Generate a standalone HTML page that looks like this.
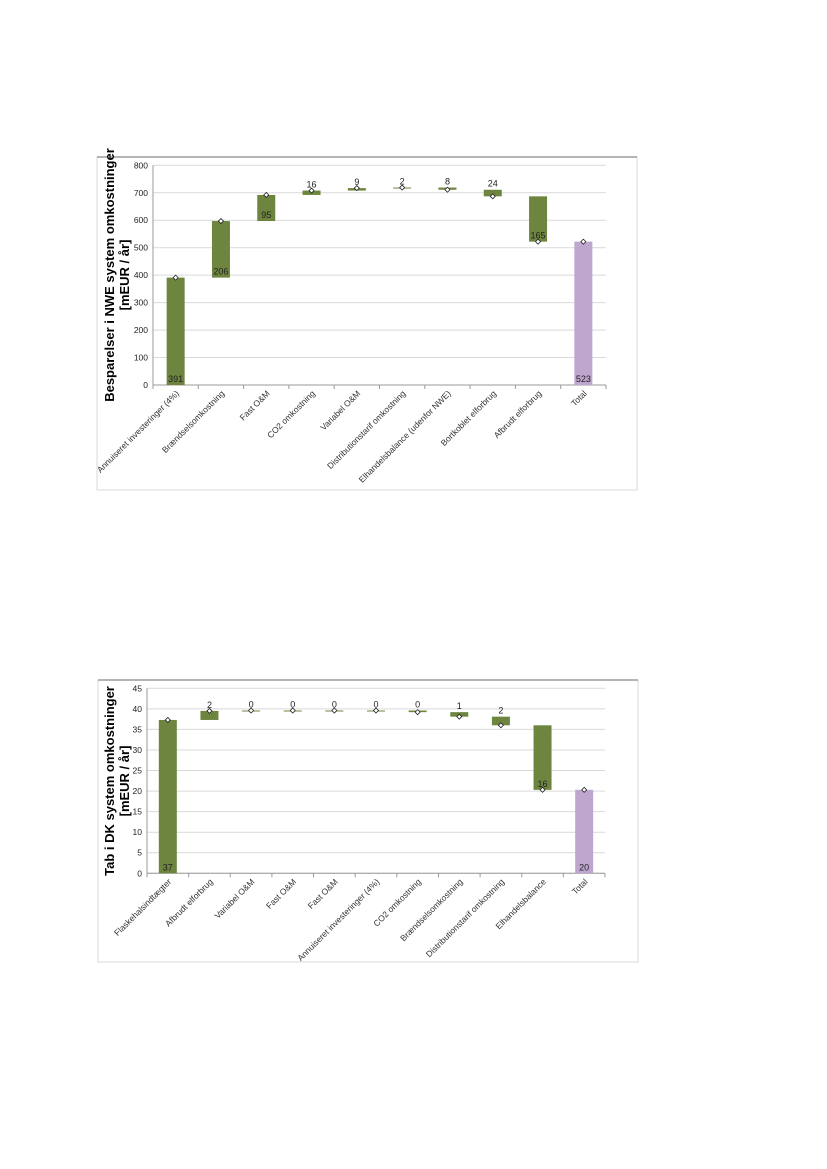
<!DOCTYPE html>
<html><head><meta charset="utf-8"><style>
body{margin:0;background:#fff;}
svg{display:block;font-family:"Liberation Sans",Arial,sans-serif;}
</style></head><body>
<svg id="s" width="827" height="1169" viewBox="0 0 827 1169" xmlns="http://www.w3.org/2000/svg">
<rect x="0" y="0" width="827" height="1169" fill="#fff"/>
<g id="c1"></g>
<g id="c2"></g>
</svg>
<script>
const nweCategories = ["Annuiseret investeringer (4%)","Brændselsomkostning","Fast O&M","CO2 omkostning","Variabel O&M","Distributionstarif omkostning","Elhandelsbalance (udenfor NWE)","Bortkoblet elforbrug","Afbrudt elforbrug","Total"];
const nweDeltas = [391,206,95,16,9,2,-8,-24,-165];
const nweLabels = ["391","206","95","16","9","2","8","24","165","523"];
const nweTicks = [0,100,200,300,400,500,600,700,800];

const dkCategories = ["Flaskehalsindtægter","Afbrudt elforbrug","Variabel O&M","Fast O&M","Fast O&M","Annuiseret investeringer (4%)","CO2 omkostning","Brændselsomkostning","Distributionstarif omkostning","Elhandelsbalance","Total"];
const dkDeltas = [37.3,2.2,0.1,0,0,0,-0.4,-1.1,-2.1,-15.7];
const dkLabels = ["37","2","0","0","0","0","0","1","2","16","20"];
const dkTicks = [0,5,10,15,20,25,30,35,40,45];

const NS="http://www.w3.org/2000/svg";
function mk(parent,tag,attrs){const e=document.createElementNS(NS,tag);for(const k in attrs)e.setAttribute(k,attrs[k]);parent.appendChild(e);return e;}

function draw(g,cfg,cats,deltas,labels,ticks){
  const box=mk(g,'rect',{x:cfg.bx,y:cfg.by,width:cfg.bw,height:cfg.bh,fill:'none',stroke:'#d9d9d9','stroke-width':1});
  
  
  mk(g,'line',{x1:cfg.bx,y1:cfg.by,x2:cfg.bx+cfg.bw,y2:cfg.by,stroke:'#888','stroke-width':1.2});
  const ymax=ticks[ticks.length-1];
  const Y=v=>cfg.y0-(v/ymax)*(cfg.y0-cfg.ytop);
  const n=cats.length, step=(cfg.x1-cfg.x0)/n;
  const X=i=>cfg.x0+step*(i+0.5);
  ticks.forEach(t=>{
    const gl=mk(g,'line',{x1:cfg.x0,x2:cfg.x1,y1:Y(t),y2:Y(t),stroke:'#d9d9d9','stroke-width':1});
    
    
    const tl=mk(g,'text',{x:cfg.x0-5,y:Y(t)+3,'text-anchor':'end','font-size':8.5,fill:'#222'});
    tl.textContent=t;
    
    
  });
  mk(g,'line',{x1:cfg.x0,x2:cfg.x0,y1:cfg.ytop,y2:cfg.y0,stroke:'#999'});
  mk(g,'line',{x1:cfg.x0,x2:cfg.x1,y1:cfg.y0,y2:cfg.y0,stroke:'#999'});
  for(let i=0;i<=n;i++)mk(g,'line',{x1:cfg.x0+step*i,x2:cfg.x0+step*i,y1:cfg.y0,y2:cfg.y0+4,stroke:'#999'});
  let cum=0;
  const bw=18;
  for(let i=0;i<n;i++){
    let a,b,fill;
    if(i<deltas.length){a=cum;b=cum+deltas[i];cum=b;fill='#6e8540';}
    else{a=0;b=cum;fill='#bfa6cf';}
    const top=Y(Math.max(a,b)),bot=Y(Math.min(a,b));
    const h=Math.max(bot-top,1);
    const r=mk(g,'rect',{x:X(i)-bw/2,y:top,width:bw,height:h,fill:fill});
    
    
    const d=mk(g,'path',{d:`M${X(i)} ${Y(b)-2.5} L${X(i)+2.5} ${Y(b)} L${X(i)} ${Y(b)+2.5} L${X(i)-2.5} ${Y(b)} Z`,fill:'#fff',stroke:'#222','stroke-width':0.8});
    
    
    const lt=mk(g,'text',{x:X(i),'text-anchor':'middle','font-size':9,fill:'#222'});
    lt.setAttribute('y',h<12?top-3:bot-3);
    lt.textContent=labels[i];
    
    
    const cx=X(i)+4, cy=cfg.y0+9;
    const cl=mk(g,'text',{x:cx,y:cy,'text-anchor':'end','font-size':8.5,fill:'#333',transform:`rotate(-45 ${cx} ${cy})`});
    cl.textContent=cats[i];
    
    
  }
  const tg=mk(g,'text',{'text-anchor':'middle','font-size':13,'font-weight':'bold',fill:'#000',transform:`translate(${cfg.tx} ${cfg.ty}) rotate(-90)`});
  
  
  cfg.title.forEach((t,k)=>{const s=mk(tg,'tspan',{x:0,dy:k?15:0});s.textContent=t;});
}
draw(document.getElementById('c1'),{bx:97,by:157,bw:540,bh:333,x0:153,x1:606,y0:385,ytop:165.3,tx:114,ty:275,title:["Besparelser i NWE system omkostninger","[mEUR / år]"]},nweCategories,nweDeltas,nweLabels,nweTicks);
draw(document.getElementById('c2'),{bx:98,by:680,bw:540,bh:282,x0:147,x1:605,y0:873.3,ytop:688.3,tx:114,ty:781,title:["Tab i DK system omkostninger","[mEUR / år]"]},dkCategories,dkDeltas,dkLabels,dkTicks);
</script>
</body></html>
